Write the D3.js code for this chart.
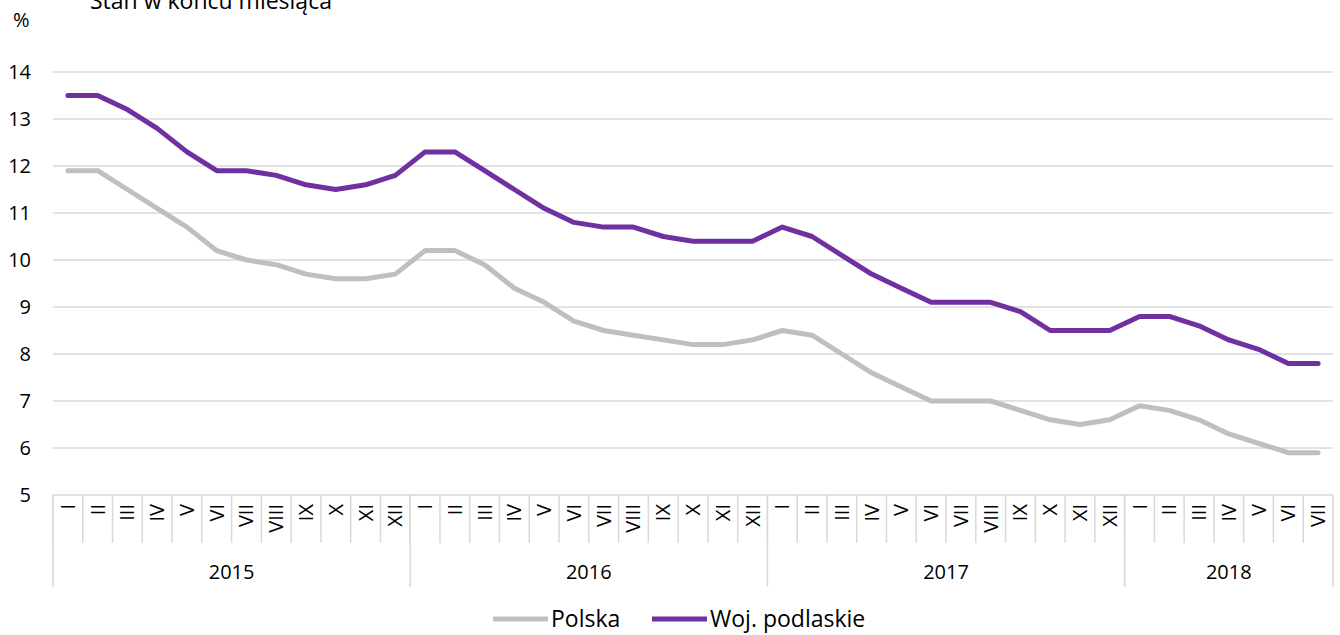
<!DOCTYPE html>
<html><head><meta charset="utf-8">
<script src="https://cdn.jsdelivr.net/npm/d3@7"></script>
<style>
body{margin:0;background:#fff;}
text{font-family:"Open Sans","Noto Sans",sans-serif;fill:#000;}
</style></head>
<body><svg id="c" width="1340" height="635"></svg>
<script>
const years = ["2015","2016","2017","2018"];
const monthsPerYear = [12,12,12,7];
const monthLabels = ["I","II","III","IV","V","VI","VII","VIII","IX","X","XI","XII"];
const polska = [11.9,11.9,11.5,11.1,10.7,10.2,10.0,9.9,9.7,9.6,9.6,9.7,
  10.2,10.2,9.9,9.4,9.1,8.7,8.5,8.4,8.3,8.2,8.2,8.3,
  8.5,8.4,8.0,7.6,7.3,7.0,7.0,7.0,6.8,6.6,6.5,6.6,
  6.9,6.8,6.6,6.3,6.1,5.9,5.9];
const podlaskie = [13.5,13.5,13.2,12.8,12.3,11.9,11.9,11.8,11.6,11.5,11.6,11.8,
  12.3,12.3,11.9,11.5,11.1,10.8,10.7,10.7,10.5,10.4,10.4,10.4,
  10.7,10.5,10.1,9.7,9.4,9.1,9.1,9.1,8.9,8.5,8.5,8.5,
  8.8,8.8,8.6,8.3,8.1,7.8,7.8];
const yTicks = [5,6,7,8,9,10,11,12,13,14];
const seriesNames = ["Polska","Woj. podlaskie"];
const colors = ["#bfbfbf","#7030a0"];

const cats = [];
years.forEach((y,i)=>{ for(let m=0;m<monthsPerYear[i];m++) cats.push({year:y, m:monthLabels[m], key:y+"-"+m}); });

const svg = d3.select("#c");
const L=53, R=1333, T=72, B=495;
const x = d3.scaleBand().domain(cats.map(d=>d.key)).range([L,R]).padding(0);
const y = d3.scaleLinear().domain([5,14]).range([B,T]);
const grid="#d9d9d9";

// title & unit
svg.append("text").attr("x",90).attr("y",9).attr("font-size",23).text("Stan w końcu miesiąca");
svg.append("text").attr("x",13).attr("y",27).attr("font-size",20).text("%");

// gridlines
svg.append("g").selectAll("line").data(yTicks).join("line")
  .attr("x1",L).attr("x2",R).attr("y1",d=>y(d)).attr("y2",d=>y(d))
  .attr("stroke",grid).attr("stroke-width",1.5);
// y labels
svg.append("g").selectAll("text").data(yTicks).join("text")
  .attr("x",31).attr("y",d=>y(d)).attr("dy","0.35em").attr("text-anchor","end")
  .attr("font-size",20).text(d=>d);

// month separators
const bw = x.bandwidth();
svg.append("g").selectAll("line").data(cats).join("line")
  .attr("x1",d=>x(d.key)).attr("x2",d=>x(d.key)).attr("y1",B).attr("y2",543)
  .attr("stroke",grid).attr("stroke-width",1.5);
// year separators
let idx=0; const yearB=[];
years.forEach((yr,i)=>{ yearB.push({year:yr, start:x(cats[idx].key), end:x(cats[idx+monthsPerYear[i]-1].key)+bw}); idx+=monthsPerYear[i]; });
const bounds = [L].concat(yearB.map(d=>d.end));
svg.append("g").selectAll("line").data(bounds).join("line")
  .attr("x1",d=>d).attr("x2",d=>d).attr("y1",B).attr("y2",587)
  .attr("stroke",grid).attr("stroke-width",1.5);
// month labels
svg.append("g").selectAll("text").data(cats).join("text")
  .attr("transform",d=>`translate(${x(d.key)+bw/2},504) rotate(-90)`)
  .attr("text-anchor","end").attr("dy","0.35em").attr("font-size",20).text(d=>d.m);
// year labels
svg.append("g").selectAll("text").data(yearB).join("text")
  .attr("x",d=>(d.start+d.end)/2).attr("y",572).attr("dy","0.35em").attr("text-anchor","middle")
  .attr("font-size",20).text(d=>d.year);

// lines
const line = d3.line().x((d,i)=>x(cats[i].key)+bw/2).y(d=>y(d));
[polska,podlaskie].forEach((s,i)=>{
  svg.append("path").datum(s).attr("d",line).attr("fill","none")
    .attr("stroke",colors[i]).attr("stroke-width",5).attr("stroke-linejoin","round").attr("stroke-linecap","round");
});

// legend
const lg = [{x:493},{x:652}];
seriesNames.forEach((n,i)=>{
  svg.append("line").attr("x1",lg[i].x).attr("x2",lg[i].x+55).attr("y1",619).attr("y2",619)
    .attr("stroke",colors[i]).attr("stroke-width",5);
  svg.append("text").attr("x",lg[i].x+58).attr("y",619).attr("dy","0.35em").attr("font-size",23).text(n);
});
</script></body></html>
